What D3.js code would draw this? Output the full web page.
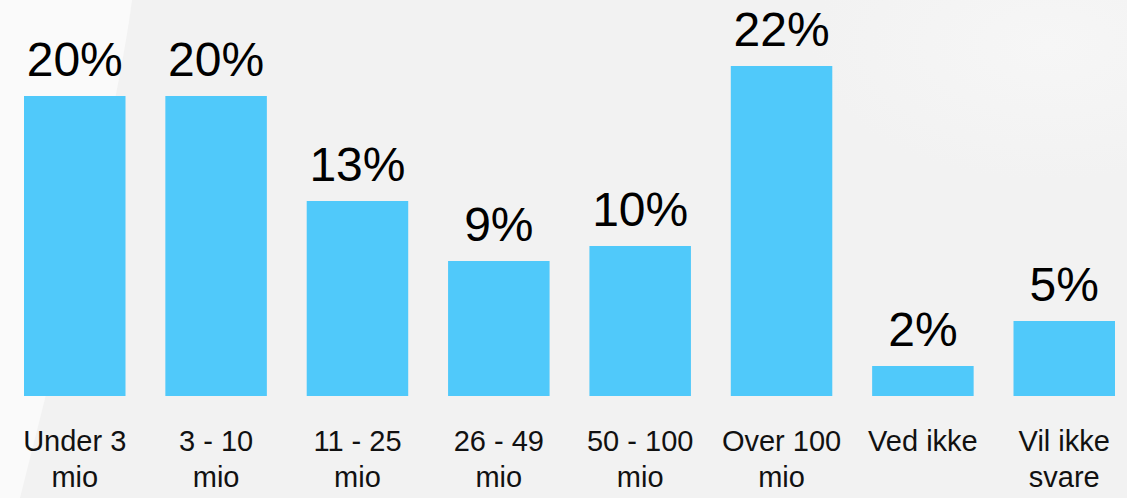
<!DOCTYPE html>
<html>
<head>
<meta charset="utf-8">
<script src="https://cdn.jsdelivr.net/npm/d3@7"></script>
<style>
  html, body { margin: 0; padding: 0; background: #f2f2f2; }
  svg { display: block; }
</style>
</head>
<body>
<svg id="chart" width="1127" height="498"></svg>
<script>
// Revenue brackets (share of respondents)
const categories = ["Under 3 mio", "3 - 10 mio", "11 - 25 mio", "26 - 49 mio",
                    "50 - 100 mio", "Over 100 mio", "Ved ikke", "Vil ikke svare"];
const tickLines = [["Under 3", "mio"], ["3 - 10", "mio"], ["11 - 25", "mio"], ["26 - 49", "mio"],
                   ["50 - 100", "mio"], ["Over 100", "mio"], ["Ved ikke"], ["Vil ikke", "svare"]];
const shares = [20, 20, 13, 9, 10, 22, 2, 5];

const W = 1127, H = 498;
const svg = d3.select("#chart");

// backdrop: flat grey with a pale sweep on the left and a soft glow top right
const defs = svg.append("defs");
const glow = defs.append("radialGradient").attr("id", "glow")
  .attr("cx", "0.85").attr("cy", "0.15").attr("r", "0.45");
glow.append("stop").attr("offset", "0").attr("stop-color", "#f6f6f6");
glow.append("stop").attr("offset", "1").attr("stop-color", "#f2f2f2");

svg.append("rect").attr("width", W).attr("height", H).attr("fill", "#f2f2f2");
svg.append("rect").attr("x", 600).attr("width", W - 600).attr("height", 300).attr("fill", "url(#glow)");
svg.append("path")
  .attr("d", "M0,0 L132,0 C118,110 70,300 20,498 L0,498 Z")
  .attr("fill", "#fafafa");

const x = d3.scaleBand()
  .domain(categories)
  .range([24, 1115])
  .paddingInner(0.282)
  .paddingOuter(0);

const y = d3.scaleLinear()
  .domain([0, 20])
  .range([396, 96]);

const data = categories.map((c, i) => ({ cat: c, v: shares[i], lines: tickLines[i] }));

// bars
svg.append("g").selectAll("rect")
  .data(data)
  .join("rect")
  .attr("x", d => x(d.cat))
  .attr("y", d => y(d.v))
  .attr("width", x.bandwidth())
  .attr("height", d => y(0) - y(d.v))
  .attr("fill", "#50c9fa");

// value labels
svg.append("g").selectAll("text")
  .data(data)
  .join("text")
  .attr("x", d => x(d.cat) + x.bandwidth() / 2)
  .attr("y", d => y(d.v) - 20)
  .attr("text-anchor", "middle")
  .attr("font-family", "'Liberation Sans', Arial, sans-serif")
  .attr("font-size", 48)
  .attr("fill", "#000")
  .text(d => d.v + "%");

// category axis, labels wrapped onto two lines
const axis = svg.append("g")
  .attr("transform", `translate(0,${y(0)})`)
  .call(d3.axisBottom(x).tickSize(0).tickPadding(0));
axis.select(".domain").remove();
axis.selectAll(".tick text")
  .attr("font-family", "'Liberation Sans', Arial, sans-serif")
  .attr("font-size", 29)
  .attr("fill", "#111")
  .attr("dy", null)
  .attr("y", 0)
  .text(null)
  .each(function(c) {
    const lines = tickLines[categories.indexOf(c)];
    const t = d3.select(this);
    lines.forEach((ln, j) => {
      t.append("tspan").attr("x", 0).attr("y", 55 + j * 36).text(ln);
    });
  });
</script>
</body>
</html>
